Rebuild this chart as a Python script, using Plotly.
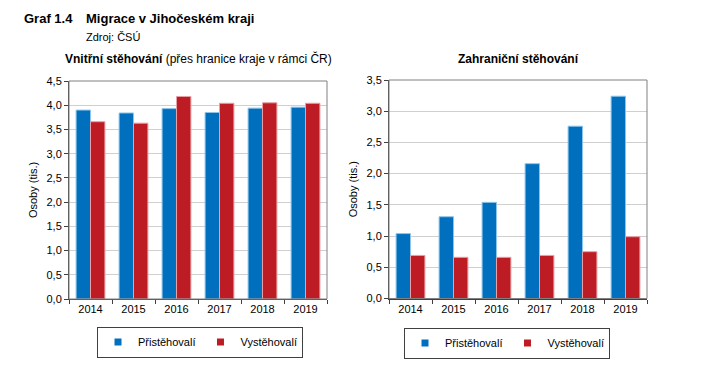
import plotly.graph_objects as go

years = ["2014", "2015", "2016", "2017", "2018", "2019"]
inner_in = [3.90, 3.84, 3.93, 3.85, 3.94, 3.96]
inner_out = [3.66, 3.63, 4.18, 4.04, 4.05, 4.04]
foreign_in = [1.04, 1.31, 1.54, 2.16, 2.76, 3.24]
foreign_out = [0.69, 0.66, 0.66, 0.69, 0.75, 0.99]
series_names = ["Přistěhovalí", "Vystěhovalí"]

BLUE = "#0070BE"
RED = "#BE1C25"
FONT = "Liberation Sans, Arial, sans-serif"
W, H = 702, 369
OFF = 8  # page body margin


def px(x):
    return (x - OFF) / W


def py(y):
    return 1 - (y - OFF) / H


fig = go.Figure()
panels = [("x", "y", "legend", inner_in, inner_out), ("x2", "y2", "legend2", foreign_in, foreign_out)]
for xa, ya, lg, s_in, s_out in panels:
    for name, vals, col, edge in ((series_names[0], s_in, BLUE, "#8CC4EA"), (series_names[1], s_out, RED, "#E8A0A4")):
        fig.add_trace(go.Bar(x=years, y=vals, name=name, marker=dict(color=col, line=dict(color=edge, width=1)),
                             xaxis=xa, yaxis=ya, showlegend=False))
        fig.add_trace(go.Scatter(x=[None], y=[None], mode="markers", name=name,
                                 marker=dict(symbol="square", size=7, color=col),
                                 xaxis=xa, yaxis=ya, legend=lg, showlegend=True))

xcommon = dict(type="category", showline=True, linecolor="#404040", linewidth=1, mirror=False,
               ticks="outside", tickson="boundaries", ticklen=4, tickcolor="#404040",
               tickfont=dict(size=11, color="#000"), showgrid=False, automargin=False)
ycommon = dict(showline=True, linecolor="#404040", linewidth=1, ticks="outside", ticklen=4, tickcolor="#404040",
               tickfont=dict(size=11, color="#000"), tickformat=".1f", showgrid=True, gridcolor="#CFCFCF",
               gridwidth=1, zeroline=False, automargin=False,
               title=dict(text="Osoby (tis.)", font=dict(size=11, color="#000"), standoff=6))

leg = dict(orientation="h", xanchor="center", yanchor="middle",
           bordercolor="#404040", borderwidth=1, font=dict(size=11), itemwidth=30,
           bgcolor="white", tracegroupgap=0)

fig.update_layout(
    width=W, height=H,
    margin=dict(l=0, r=0, t=0, b=0, autoexpand=False),
    paper_bgcolor="white", plot_bgcolor="white",
    font=dict(family=FONT, size=11, color="#000"),
    separators=", ",
    barmode="group", bargap=0.33, bargroupgap=0.0,
    xaxis=dict(domain=[px(69), px(327)], anchor="y", **xcommon),
    yaxis=dict(domain=[py(299), py(81)], anchor="x", range=[0, 4.5], dtick=0.5, **ycommon),
    xaxis2=dict(domain=[px(389), px(647)], anchor="y2", **xcommon),
    yaxis2=dict(domain=[py(298.5), py(80)], anchor="x2", range=[0, 3.5], dtick=0.5, **ycommon),
    legend=dict(x=px(200), y=py(342), **leg),
    legend2=dict(x=px(507), y=py(343), **leg),
    showlegend=True,
)

for xa, ya in (("x", "y"), ("x2", "y2")):
    fig.add_shape(type="rect", xref=f"{xa} domain", yref=f"{ya} domain", x0=0, x1=1, y0=0, y1=1,
                  line=dict(color="#808080", width=1), layer="above")

fig.add_annotation(text="<b>Graf 1.4</b>", x=px(22), y=py(18), xref="paper", yref="paper",
                   xanchor="left", yanchor="middle", showarrow=False, font=dict(size=13))
fig.add_annotation(text="<b>Migrace v Jihočeském kraji</b>", x=px(84), y=py(18), xref="paper", yref="paper",
                   xanchor="left", yanchor="middle", showarrow=False, font=dict(size=13))
fig.add_annotation(text="Zdroj: ČSÚ", x=px(84), y=py(37), xref="paper", yref="paper",
                   xanchor="left", yanchor="middle", showarrow=False, font=dict(size=11))
fig.add_annotation(text="<b>Vnitřní stěhování</b> (přes hranice kraje v rámci ČR)", x=px(198), y=py(59),
                   xref="paper", yref="paper", xanchor="center", yanchor="middle", showarrow=False,
                   font=dict(size=12))
fig.add_annotation(text="<b>Zahraniční stěhování</b>", x=px(518), y=py(59),
                   xref="paper", yref="paper", xanchor="center", yanchor="middle", showarrow=False,
                   font=dict(size=12))

fig.write_html("out.html")
